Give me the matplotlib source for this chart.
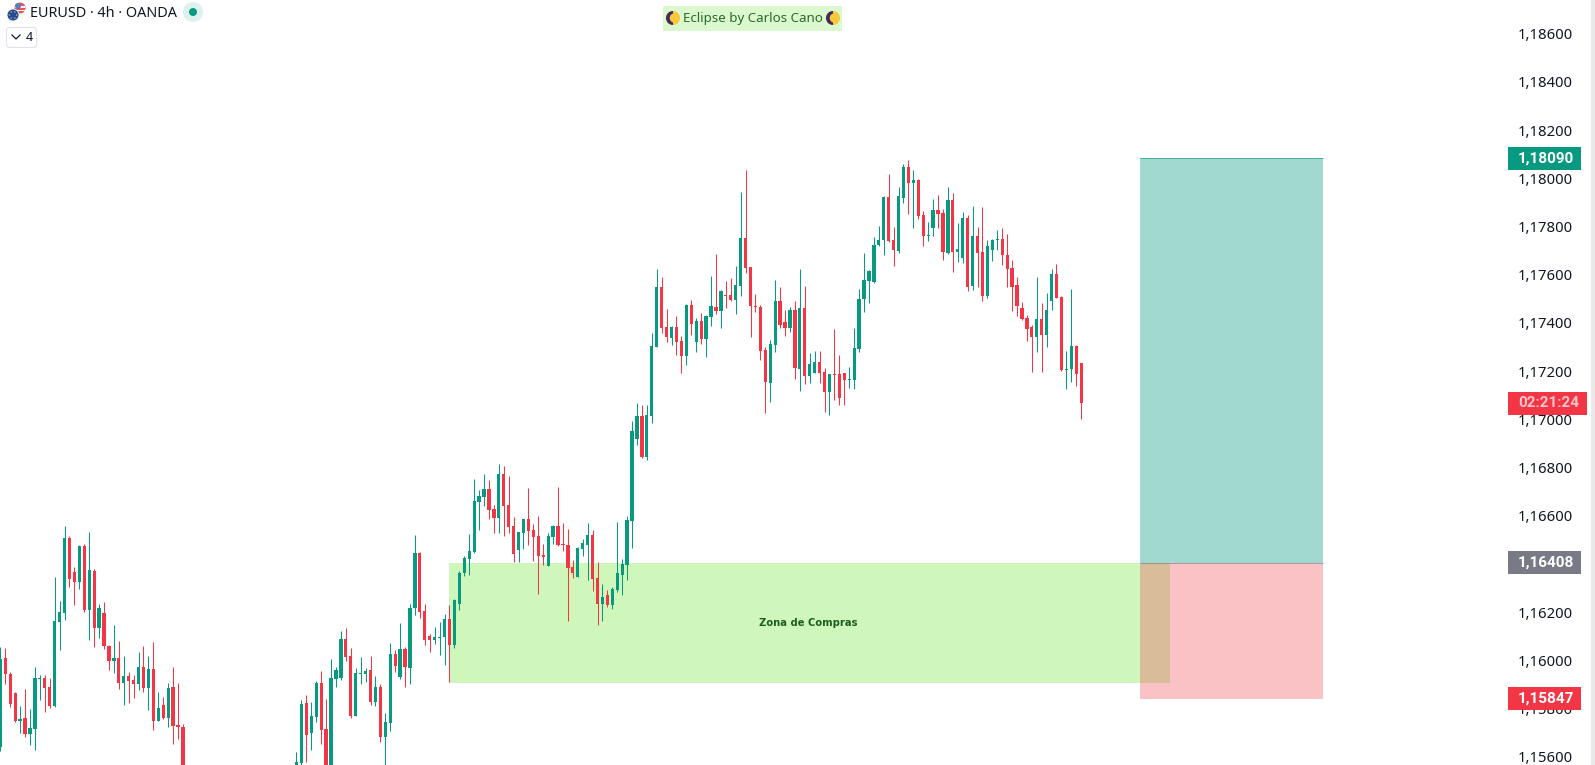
import numpy as np
import matplotlib
matplotlib.use('Agg')
import matplotlib.pyplot as plt
import matplotlib.transforms as mtransforms
from matplotlib.patches import Rectangle, Circle, Wedge, FancyBboxPatch

plt.rcParams['font.family'] = ['Noto Sans', 'DejaVu Sans']

# candles in 1e-5 price units, bars 37-58 are below the visible range
bars = list(range(-1, 37)) + list(range(59, 219))
opens = [
    115648, 116015, 115949, 115870, 115754, 115767, 115700, 115721, 115928, 115932,
    115895, 115816, 116165, 116202, 116513, 116372, 116331, 116480, 116215, 116376,
    116140, 116202, 116065, 116003, 116015, 115912, 115941, 115924, 115908, 115978,
    115891, 115970, 115754, 115820, 115767, 115895, 115737, 115729,
    115560, 115580, 115829, 115704, 115771, 115912, 115721, 115560, 115928, 115932,
    116094, 116024, 115775, 115949, 115949, 115966, 115833, 115895, 115688, 115746,
    116032, 115937, 116053, 115974, 116223, 116451, 116210, 116107, 116090, 116098,
    116103, 116177, 116069, 116240, 116368, 116426, 116455, 116663, 116684, 116717,
    116634, 116596, 116779, 116650, 116563, 116464, 116534, 116592, 116547, 116522,
    116443, 116397, 116518, 116563, 116489, 116484, 116393, 116352, 116468, 116484,
    116526, 116347, 116240, 116277, 116235, 116298, 116360, 116401, 116584, 116924,
    117019, 116849, 117019, 117306, 117554, 117389, 117343, 117389, 117330, 117268,
    117480, 117326, 117413, 117339, 117430, 117472, 117455, 117521, 117521, 117501,
    117559, 117758, 117638, 117476, 117472, 117293, 117156, 117314, 117496, 117409,
    117385, 117459, 117214, 117467, 117185, 117198, 117243, 117202, 117119, 117194,
    117194, 117198, 117169, 117169, 117297, 117505, 117579, 117575, 117729, 117750,
    117928, 117750, 117704, 117924, 118052, 117986, 117999, 117853, 117766, 117799,
    117874, 117862, 117696, 117916, 117700, 117675, 117841, 117559, 117766, 117700,
    117517, 117708, 117750, 117754, 117687, 117633, 117563, 117467, 117426, 117389,
    117347, 117422, 117355, 117497, 117609, 117513, 117210, 117214, 117310, 117239,
]
highs = [
    116061, 116057, 115957, 115874, 115816, 115887, 115804, 115978, 115945, 115945,
    115932, 116352, 116252, 116563, 116522, 116393, 116484, 116488, 116538, 116385,
    116239, 116248, 116069, 116152, 116086, 116024, 115957, 115945, 116040, 116065,
    116024, 116082, 115874, 115854, 115912, 115978, 115912, 115742,
    115625, 115841, 115862, 115833, 115920, 115961, 115845, 116011, 115978, 116127,
    116140, 116057, 115974, 116020, 115974, 116024, 115941, 115908, 115787, 116078,
    116049, 116161, 116061, 116239, 116526, 116455, 116239, 116115, 116144, 116165,
    116198, 116235, 116260, 116376, 116439, 116530, 116758, 116713, 116779, 116754,
    116650, 116820, 116812, 116771, 116601, 116538, 116592, 116721, 116571, 116605,
    116489, 116534, 116567, 116725, 116576, 116551, 116422, 116476, 116509, 116576,
    116547, 116414, 116323, 116298, 116310, 116580, 116426, 116605, 116999, 117073,
    117065, 117065, 117364, 117629, 117596, 117463, 117393, 117434, 117351, 117484,
    117501, 117426, 117447, 117438, 117600, 117691, 117542, 117579, 117592, 117642,
    117949, 118040, 117638, 117526, 117480, 117306, 117335, 117584, 117555, 117459,
    117472, 117496, 117629, 117559, 117281, 117289, 117289, 117219, 117194, 117380,
    117272, 117198, 117223, 117385, 117546, 117696, 117625, 117762, 117808, 117932,
    118023, 117804, 117969, 118065, 118082, 118040, 118003, 117870, 117824, 117920,
    117936, 117878, 117969, 117945, 117820, 117866, 117853, 117891, 117804, 117886,
    117750, 117754, 117791, 117799, 117774, 117667, 117596, 117492, 117438, 117397,
    117596, 117488, 117530, 117629, 117650, 117517, 117289, 117546, 117314, 117239,
]
lows = [
    115631, 115908, 115812, 115750, 115704, 115688, 115654, 115634, 115841, 115791,
    115808, 115812, 116049, 116173, 116310, 116235, 116302, 116206, 116090, 116061,
    116098, 116053, 115966, 115953, 115887, 115820, 115829, 115849, 115883, 115874,
    115800, 115717, 115754, 115762, 115729, 115659, 115679, 115540,
    115540, 115550, 115584, 115634, 115750, 115659, 115540, 115540, 115895, 115924,
    116003, 115767, 115775, 115908, 115916, 115820, 115816, 115667, 115560, 115713,
    115957, 115928, 115895, 115908, 116194, 116181, 116069, 116040, 116074, 116028,
    115986, 115916, 116057, 116215, 116356, 116360, 116451, 116547, 116646, 116592,
    116534, 116534, 116522, 116534, 116414, 116414, 116468, 116484, 116418, 116281,
    116401, 116397, 116489, 116480, 116459, 116169, 116347, 116352, 116439, 116339,
    116294, 116152, 116169, 116227, 116219, 116289, 116277, 116339, 116472, 116899,
    116845, 116837, 116990, 117306, 117364, 117326, 117314, 117272, 117198, 117231,
    117355, 117285, 117318, 117264, 117393, 117442, 117384, 117467, 117496, 117442,
    117517, 117613, 117347, 117451, 117252, 117032, 117077, 117285, 117385, 117351,
    117368, 117173, 117123, 117152, 117156, 117198, 117156, 117036, 117024, 117086,
    117065, 117065, 117136, 117131, 117285, 117451, 117488, 117571, 117725, 117687,
    117741, 117642, 117696, 117903, 117857, 117799, 117837, 117725, 117745, 117766,
    117799, 117667, 117692, 117617, 117658, 117654, 117538, 117542, 117555, 117496,
    117509, 117662, 117708, 117646, 117555, 117455, 117434, 117418, 117331, 117202,
    117285, 117202, 117306, 117459, 117509, 117206, 117131, 117160, 117144, 117007,
]
closes = [
    116011, 115949, 115825, 115754, 115762, 115700, 115725, 115932, 115932, 115891,
    115816, 116169, 116206, 116513, 116343, 116331, 116480, 116215, 116381, 116140,
    116223, 116065, 116003, 116015, 115912, 115941, 115920, 115908, 115978, 115891,
    115970, 115754, 115808, 115767, 115891, 115733, 115729, 115560,
    115584, 115825, 115696, 115775, 115912, 115717, 115560, 115932, 115966, 116094,
    116020, 115775, 115953, 115953, 115961, 115833, 115895, 115688, 115750, 116032,
    115982, 116053, 115978, 116223, 116451, 116206, 116090, 116090, 116103, 116103,
    116177, 116069, 116256, 116368, 116430, 116459, 116667, 116688, 116717, 116630,
    116596, 116779, 116646, 116559, 116447, 116538, 116592, 116542, 116518, 116439,
    116435, 116522, 116563, 116484, 116484, 116389, 116368, 116472, 116493, 116526,
    116343, 116240, 116269, 116235, 116302, 116368, 116406, 116588, 116957, 117019,
    116849, 117023, 117310, 117554, 117384, 117347, 117389, 117326, 117268, 117480,
    117401, 117413, 117339, 117434, 117476, 117455, 117538, 117517, 117501, 117563,
    117758, 117633, 117476, 117472, 117289, 117160, 117318, 117496, 117397, 117385,
    117459, 117219, 117467, 117185, 117235, 117243, 117198, 117119, 117194, 117189,
    117094, 117169, 117173, 117301, 117505, 117584, 117621, 117729, 117750, 117928,
    117745, 117708, 117932, 118052, 117986, 117999, 117849, 117766, 117770, 117874,
    117857, 117700, 117916, 117700, 117712, 117841, 117555, 117766, 117696, 117517,
    117725, 117750, 117754, 117687, 117629, 117555, 117476, 117422, 117380, 117347,
    117422, 117355, 117459, 117609, 117509, 117210, 117214, 117310, 117194, 117073,
]

# 1,16400 sits fully behind the entry tag, so it has no label here
price_ticks = [1.156, 1.158, 1.160, 1.162, 1.166, 1.168, 1.170, 1.172, 1.174,
               1.176, 1.178, 1.180, 1.182, 1.184, 1.186]
price_labels = ['1,15600', '1,15800', '1,16000', '1,16200', '1,16600',
                '1,16800', '1,17000', '1,17200', '1,17400', '1,17600', '1,17800',
                '1,18000', '1,18200', '1,18400', '1,18600']

entry_price = 1.16412
target_price = 1.18090
stop_price = 1.15847
zone_top = 1.16412
zone_bottom = 1.15912
zone_start, zone_end = 90, 236
position_start, position_end = 230, 267

UP = '#089981'
DOWN = '#F23645'
GREY = '#787B86'
TEXT = '#131722'
W, H = 1595, 765

fig = plt.figure(figsize=(W / 100, H / 100), dpi=100, facecolor='white')
pane_w = 1512
ax = fig.add_axes([0, 0, pane_w / W, 1])
overlay = fig.add_axes([0, 0, 1, 1], zorder=5)
overlay.set_xlim(0, W)
overlay.set_ylim(H, 0)
overlay.axis('off')
overlay.patch.set_alpha(0)

ax.set_xlim(-1.074, 305.3)
ax.set_ylim(1.15572, 1.18746)
for s in ax.spines.values():
    s.set_visible(False)
ax.set_xticks([])
ax.yaxis.tick_right()
ax.set_yticks(price_ticks)
ax.set_yticklabels(price_labels, fontsize=10.7, color=TEXT)
ax.tick_params(axis='y', length=0, pad=4.3)
label_shift = mtransforms.ScaledTranslation(0, 0.015, fig.dpi_scale_trans)
for label in ax.get_yticklabels():
    label.set_transform(label.get_transform() + label_shift)

# zone goes below the candles, position boxes above it
ax.add_patch(Rectangle((zone_start, zone_bottom), zone_end - zone_start, zone_top - zone_bottom,
                       facecolor='#CFF7BC', edgecolor='none', zorder=1))

x = np.array(bars)
o = np.array(opens) / 1e5
h = np.array(highs) / 1e5
l = np.array(lows) / 1e5
c = np.array(closes) / 1e5
colors = np.where(c >= o, UP, DOWN)
bottoms = np.minimum(o, c)
heights = np.maximum(np.abs(c - o), 0.00004)
ax.vlines(x, l, h, colors=colors, linewidth=0.75, zorder=2)
ax.bar(x, heights, bottom=bottoms, width=0.66, color=colors, linewidth=0, zorder=3)

ax.add_patch(Rectangle((position_start, entry_price), position_end - position_start,
                       target_price - entry_price, facecolor=UP, alpha=0.38,
                       edgecolor='none', zorder=4))
ax.add_patch(Rectangle((position_start, stop_price), position_end - position_start,
                       entry_price - stop_price, facecolor=DOWN, alpha=0.3,
                       edgecolor='none', zorder=4))
ax.hlines([target_price, entry_price], position_start, position_end, colors=[UP, GREY],
          linewidth=0.7, alpha=0.6, zorder=4)
ax.text(162.8, 1.16162, 'Zona de Compras', fontsize=7.2, color='#1B5E20',
        fontweight='bold', ha='center', va='center', family=['DejaVu Sans'], zorder=5)

# price tags on the scale: x in pixels, y in price
tag_tf = mtransforms.blended_transform_factory(overlay.transData, ax.transData)
tag_h = 0.00095


def price_tag(price, label, color, right=1581, text_color='white'):
    overlay.add_patch(Rectangle((1508, price - tag_h / 2), right - 1508, tag_h, facecolor=color,
                                edgecolor='none', transform=tag_tf))
    overlay.text((1508 + right) / 2 + 1.5, price, label, color=text_color, fontsize=11, fontweight='bold',
                 family=['Roboto', 'DejaVu Sans'], ha='center', va='center', transform=tag_tf)


price_tag(target_price, '1,18090', UP)
price_tag(entry_price, '1,16408', GREY)
price_tag(stop_price, '1,15847', DOWN)
price_tag(closes[-1] / 1e5, '02:21:24', DOWN, right=1587, text_color='#FFC4C9')

# gray strip at the right edge
overlay.add_patch(Rectangle((1591, 0), 4, H, facecolor='#E9E9EA', edgecolor='none'))

# header
overlay.text(30, 13, 'EURUSD · 4h · OANDA', fontsize=10.4, color=TEXT, ha='left', va='center')
overlay.add_patch(Circle((193, 12), 10, facecolor='#DDF2EE', edgecolor='none'))
overlay.add_patch(Circle((193, 12), 4, facecolor=UP, edgecolor='none'))
# small flag icon
overlay.add_patch(Circle((20, 8), 5.5, facecolor='#E8525A', edgecolor='none'))
overlay.add_patch(Rectangle((15, 6), 10, 1.5, facecolor='white', edgecolor='none'))
overlay.add_patch(Rectangle((15, 9.5), 10, 1.5, facecolor='white', edgecolor='none'))
overlay.add_patch(Circle((18, 6), 3, facecolor='#5B7DB8', edgecolor='none'))
overlay.add_patch(Circle((13, 15), 6, facecolor='#1F4E9E', edgecolor='white', linewidth=0.6))
for a in np.arange(0, 360, 60):
    overlay.add_patch(Circle((13 + 3.6 * np.cos(np.radians(a)), 15 + 3.6 * np.sin(np.radians(a))),
                             0.7, facecolor='#F2C230', edgecolor='none'))

overlay.add_patch(FancyBboxPatch((6.5, 27.5), 30, 20, boxstyle='round,pad=0,rounding_size=3',
                                 facecolor='white', edgecolor='#E0E3EB', linewidth=0.8))
overlay.plot([12, 16, 20], [35, 39, 35], color=TEXT, linewidth=0.9)
overlay.text(29.5, 37.5, '4', fontsize=9, color=TEXT, ha='center', va='center')

# title label with the moons
overlay.add_patch(Rectangle((663, 6), 179, 25, facecolor='#DCF8CF', edgecolor='none'))
overlay.text(753, 18.5, 'Eclipse by Carlos Cano', fontsize=9.6, color='#2B6A2B', ha='center', va='center')
for mx in (673, 833):
    overlay.add_patch(Circle((mx, 18), 7, facecolor='#F6C93A', edgecolor='none'))
    overlay.add_patch(Wedge((mx, 18), 7, 90, 270, facecolor='#3F2A63', edgecolor='none'))
    overlay.add_patch(Circle((mx + 1.5, 18), 4.8, facecolor='#F6C93A', edgecolor='none'))

fig.savefig('out.png', dpi=100)
